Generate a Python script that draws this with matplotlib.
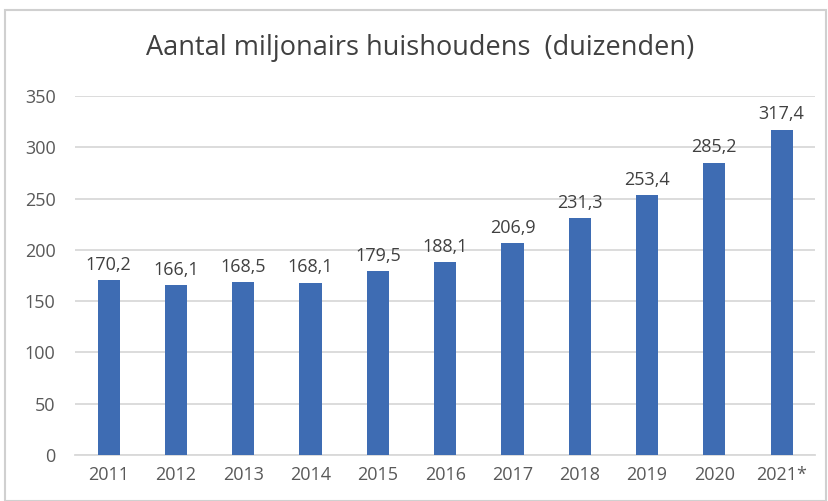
import matplotlib.pyplot as plt
from matplotlib.patches import Rectangle

years = ["2011", "2012", "2013", "2014", "2015", "2016", "2017", "2018", "2019", "2020", "2021*"]
values = [170.2, 166.1, 168.5, 168.1, 179.5, 188.1, 206.9, 231.3, 253.4, 285.2, 317.4]
labels = ["170,2", "166,1", "168,5", "168,1", "179,5", "188,1", "206,9", "231,3", "253,4", "285,2", "317,4"]
yticks = [0, 50, 100, 150, 200, 250, 300, 350]

plt.rcParams['font.family'] = ['Open Sans', 'DejaVu Sans']

fig = plt.figure(figsize=(8.29, 5.01), dpi=100)
ax = fig.add_axes([0.0905, 0.092, 0.893, 0.716])

x = range(len(years))
bars = ax.bar(x, values, width=0.33, color="#3E6CB3", zorder=3)
for xi, v, lab in zip(x, values, labels):
    ax.text(xi, v + 6, lab, ha="center", va="bottom", fontsize=13, color="#404040")

ax.set_xlim(-0.5, len(years) - 0.5)
ax.set_ylim(0, 350)
ax.set_yticks(yticks)
ax.set_xticks(list(x))
ax.set_xticklabels(years)
ax.yaxis.grid(True, color="#d9d9d9", linewidth=1.3, zorder=0)
ax.tick_params(axis="both", length=0, labelsize=13, colors="#595959")
ax.tick_params(axis="y", pad=14)
ax.tick_params(axis="x", pad=8)
for s in ["top", "right", "left"]:
    ax.spines[s].set_visible(False)
ax.spines["bottom"].set_color("#d9d9d9")
ax.spines["bottom"].set_linewidth(1.3)

fig.text(0.507, 0.905, "Aantal miljonairs huishoudens  (duizenden)", ha="center", va="center",
         fontsize=19.5, color="#404040")

fig.patches.append(Rectangle((0.006, 0.0), 0.99, 0.98, transform=fig.transFigure,
                             fill=False, edgecolor="#d0d0d0", linewidth=1.5))

fig.savefig("out.png", dpi=100)
